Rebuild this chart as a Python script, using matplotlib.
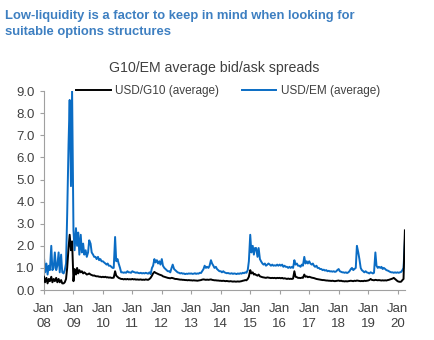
import matplotlib
matplotlib.use('Agg')
import matplotlib.pyplot as plt
import matplotlib.dates as mdates
import matplotlib.ticker as ticker
import pandas as pd

plt.rcParams['font.family'] = ['Liberation Sans', 'DejaVu Sans']

title_text = 'Low-liquidity is a factor to keep in mind when looking for\nsuitable options structures'
chart_title = 'G10/EM average bid/ask spreads'
series_names = ['USD/G10 (average)', 'USD/EM (average)']

# semi-monthly readings (1st and 15th), Jan 2008 - Apr 2020
dates = pd.date_range('2008-01-01', '2020-04-01', freq='SMS')

usd_em = [
    # 2008
    1.5, 0.8, 1.2, 0.7, 1.1, 0.9, 2.0, 0.9, 1.0, 1.7, 0.9, 1.1,
    1.7, 0.8, 1.6, 0.8, 0.75, 0.9, 1.2, 3.4, 6.6, 8.6, 4.7, 9.0,
    # 2009
    2.7, 1.8, 2.8, 2.0, 2.6, 1.6, 2.5, 1.7, 2.1, 1.6, 1.8, 1.5,
    1.7, 2.25, 2.1, 1.7, 1.6, 1.5, 1.5, 1.4, 1.5, 1.35, 1.4, 1.3,
    # 2010
    1.3, 1.25, 1.2, 1.15, 1.2, 1.1, 1.1, 1.05, 1.0, 1.0, 2.4, 1.3,
    1.4, 1.2, 1.0, 0.8, 0.8, 0.78, 0.8, 0.78, 0.85, 0.8, 0.8, 0.78,
    # 2011
    0.85, 0.82, 0.8, 0.78, 0.8, 0.77, 0.76, 0.78, 0.75, 0.77, 0.75, 0.78,
    0.76, 0.74, 0.8, 0.72, 1.0, 1.1, 1.4, 1.25, 1.35, 1.2, 1.3, 1.15,
    # 2012
    1.4, 1.1, 1.0, 0.95, 0.9, 0.85, 0.85, 0.8, 1.0, 1.15, 0.95, 0.9,
    0.85, 0.8, 0.78, 0.75, 0.77, 0.74, 0.75, 0.72, 0.74, 0.73, 0.75, 0.74,
    # 2013
    0.75, 0.73, 0.74, 0.76, 0.73, 0.75, 0.74, 0.78, 0.77, 0.85, 0.95, 1.1,
    1.0, 1.05, 1.0, 1.1, 1.35, 1.2, 1.1, 1.0, 1.05, 0.95, 0.9, 0.85,
    # 2014
    0.85, 0.8, 0.85, 0.8, 0.78, 0.76, 0.77, 0.75, 0.74, 0.76, 0.73, 0.75,
    0.74, 0.72, 0.75, 0.73, 0.76, 0.74, 0.78, 0.76, 0.8, 0.78, 0.9, 1.3,
    # 2015
    2.5, 1.7, 2.0, 1.6, 1.9, 1.9, 1.5, 1.9, 1.4, 1.3, 1.2, 1.15,
    1.2, 1.1, 1.15, 1.2, 1.15, 1.1, 1.15, 1.1, 1.12, 1.1, 1.15, 1.1,
    # 2016
    1.15, 1.1, 1.15, 1.05, 1.1, 1.05, 1.05, 1.0, 1.05, 1.0, 1.05, 1.0,
    1.35, 1.15, 1.2, 1.1, 1.1, 1.05, 1.15, 1.1, 1.5, 1.2, 1.3, 1.2,
    # 2017
    1.3, 1.2, 1.15, 1.2, 1.1, 1.05, 1.1, 1.0, 1.0, 0.95, 0.95, 0.9,
    0.92, 0.88, 0.9, 0.85, 0.87, 0.84, 0.85, 0.83, 0.85, 0.82, 0.84, 0.9,
    # 2018
    0.95, 0.85, 0.82, 0.8, 0.8, 0.78, 0.8, 0.77, 0.8, 0.85, 0.95, 1.0,
    0.9, 0.95, 1.0, 2.0, 1.7, 1.4, 1.0, 0.9, 0.85, 0.8, 0.85, 0.8,
    # 2019
    0.78, 0.75, 0.8, 0.78, 0.75, 0.78, 1.7, 1.1, 1.0, 1.05, 1.0, 1.05,
    0.95, 1.0, 0.95, 0.9, 0.88, 0.85, 0.82, 0.8, 0.8, 0.78, 0.8, 0.78,
    # 2020
    0.8, 0.78, 0.8, 0.82, 0.9, 1.0, 2.25,
]

usd_g10 = [
    # 2008
    0.6, 0.35, 0.55, 0.3, 0.5, 0.4, 0.6, 0.35, 0.5, 0.4, 0.55, 0.35,
    0.5, 0.35, 0.45, 0.3, 0.3, 0.35, 0.5, 1.0, 1.9, 2.5, 1.8, 2.2,
    # 2009
    0.4, 0.95, 0.7, 1.0, 0.75, 0.9, 0.8, 0.85, 0.75, 0.8, 0.75, 0.7,
    0.72, 0.75, 0.7, 0.68, 0.65, 0.66, 0.63, 0.62, 0.62, 0.6, 0.6, 0.58,
    # 2010
    0.6, 0.58, 0.6, 0.57, 0.58, 0.56, 0.57, 0.55, 0.55, 0.56, 0.85, 0.65,
    0.6, 0.55, 0.52, 0.5, 0.5, 0.48, 0.5, 0.48, 0.5, 0.48, 0.49, 0.48,
    # 2011
    0.5, 0.48, 0.49, 0.47, 0.48, 0.47, 0.47, 0.48, 0.46, 0.47, 0.46, 0.48,
    0.47, 0.46, 0.5, 0.55, 0.65, 0.75, 0.82, 0.78, 0.75, 0.72, 0.7, 0.68,
    # 2012
    0.66, 0.62, 0.6, 0.58, 0.57, 0.55, 0.54, 0.53, 0.55, 0.54, 0.52, 0.5,
    0.5, 0.49, 0.48, 0.47, 0.47, 0.46, 0.46, 0.45, 0.45, 0.44, 0.45, 0.44,
    # 2013
    0.44, 0.43, 0.44, 0.43, 0.43, 0.42, 0.43, 0.44, 0.45, 0.47, 0.48, 0.47,
    0.46, 0.47, 0.46, 0.47, 0.48, 0.46, 0.45, 0.44, 0.44, 0.43, 0.43, 0.42,
    # 2014
    0.42, 0.41, 0.42, 0.41, 0.4, 0.41, 0.4, 0.39, 0.4, 0.39, 0.38, 0.39,
    0.38, 0.38, 0.39, 0.38, 0.39, 0.4, 0.42, 0.43, 0.45, 0.44, 0.5, 0.6,
    # 2015
    0.9, 0.75, 0.8, 0.7, 0.72, 0.68, 0.65, 0.7, 0.62, 0.6, 0.58, 0.57,
    0.56, 0.55, 0.57, 0.56, 0.55, 0.54, 0.55, 0.54, 0.55, 0.53, 0.55, 0.54,
    # 2016
    0.55, 0.53, 0.55, 0.52, 0.53, 0.52, 0.5, 0.52, 0.5, 0.51, 0.5, 0.52,
    0.85, 0.6, 0.58, 0.55, 0.55, 0.54, 0.56, 0.55, 0.7, 0.6, 0.62, 0.58,
    # 2017
    0.6, 0.58, 0.56, 0.55, 0.54, 0.52, 0.5, 0.49, 0.48, 0.47, 0.46, 0.45,
    0.45, 0.44, 0.43, 0.43, 0.42, 0.42, 0.41, 0.42, 0.41, 0.4, 0.41, 0.42,
    # 2018
    0.43, 0.41, 0.42, 0.4, 0.4, 0.39, 0.4, 0.39, 0.4, 0.41, 0.42, 0.41,
    0.4, 0.42, 0.41, 0.43, 0.42, 0.41, 0.4, 0.41, 0.4, 0.42, 0.41, 0.42,
    # 2019
    0.43, 0.45, 0.5, 0.46, 0.45, 0.44, 0.46, 0.45, 0.44, 0.45, 0.44, 0.43,
    0.44, 0.43, 0.44, 0.43, 0.45, 0.46, 0.48, 0.5, 0.52, 0.55, 0.5, 0.45,
    # 2020
    0.4, 0.38, 0.37, 0.38, 0.45, 0.5, 2.7,
]

fig = plt.figure(figsize=(4.35, 3.40), dpi=100)
ax = fig.add_axes([0.101, 0.147, 0.830, 0.585])

ax.plot(dates, usd_em, color='#0a6cc4', lw=1.4, label=series_names[1], zorder=2)
ax.plot(dates, usd_g10, color='black', lw=1.4, label=series_names[0], zorder=3)

ax.set_ylim(0, 9)
ax.set_xlim(pd.Timestamp('2008-01-01'), pd.Timestamp('2020-04-02'))
ax.yaxis.set_major_locator(ticker.MultipleLocator(1))
ax.yaxis.set_major_formatter(ticker.FormatStrFormatter('%.1f'))
ax.xaxis.set_major_locator(mdates.YearLocator())
ax.xaxis.set_major_formatter(ticker.FuncFormatter(
    lambda v, p: 'Jan\n' + mdates.num2date(v).strftime('%y')))

for s in ['top', 'right']:
    ax.spines[s].set_visible(False)
for s in ['left', 'bottom']:
    ax.spines[s].set_color('#a0a0a0')
    ax.spines[s].set_linewidth(0.8)
ax.tick_params(colors='#a0a0a0', labelcolor='#404040', labelsize=9.5,
               length=3, width=0.8)
ax.tick_params(axis='x', pad=6, labelsize=9.5)
for lab in ax.get_xticklabels():
    lab.set_linespacing(1.35)

handles, labels = ax.get_legend_handles_labels()
ax.legend(handles[::-1], labels[::-1], loc='center', bbox_to_anchor=(0.51, 1.0),
          ncol=2, frameon=False, fontsize=8.5, handlelength=2.9,
          handletextpad=0.35, columnspacing=2.0, labelcolor='#404040')

fig.text(0.012, 0.97, title_text, color='#3d7fc1', fontweight='bold',
         fontsize=9.4, va='top', ha='left', linespacing=1.45)
fig.text(0.493, 0.8, chart_title, color='#404040', fontsize=10.2,
         ha='center', va='center')

fig.savefig('out.png', dpi=100)
